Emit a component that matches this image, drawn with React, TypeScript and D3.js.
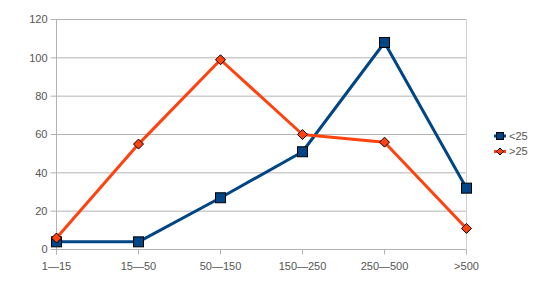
import * as d3 from 'd3';
import { useEffect, useRef } from 'react';

// Categories and series values
const categories = ['1\u201415', '15\u201450', '50\u2014150', '150\u2014250', '250\u2014500', '>500'];
const under25 = [4, 4, 27, 51, 108, 32];
const over25 = [6, 55, 99, 60, 56, 11];
const yTicks = [0, 20, 40, 60, 80, 100, 120];

const series = [
  { name: '<25', values: under25, color: '#004586', marker: 'square' },
  { name: '>25', values: over25, color: '#ff420e', marker: 'diamond' },
];

const App = () => {
  const ref = useRef<SVGSVGElement>(null);

  useEffect(() => {
    const svg = d3.select(ref.current);
    svg.selectAll('*').remove();

    const width = 554, height = 298;
    const left = 56.5, right = 466.5, top = 19.5, bottom = 249.5;
    const font = '"Liberation Sans", Arial, sans-serif';
    const textColor = '#555';

    svg.attr('width', width).attr('height', height);
    svg.append('rect').attr('width', width).attr('height', height).attr('fill', '#fff');

    const x = d3.scalePoint<string>().domain(categories).range([left, right]).padding(0);
    const y = d3.scaleLinear().domain([0, 120]).range([bottom, top]);

    // gridlines + y tick labels
    const grid = svg.append('g');
    yTicks.forEach(t => {
      grid.append('line')
        .attr('x1', left - 6).attr('x2', right)
        .attr('y1', y(t)).attr('y2', y(t))
        .attr('stroke', '#b3b3b3').attr('stroke-width', 1);
      grid.append('text')
        .attr('x', left - 9).attr('y', y(t))
        .attr('dy', '0.35em')
        .attr('text-anchor', 'end')
        .attr('font-family', font).attr('font-size', 11)
        .attr('fill', textColor)
        .text(t);
    });

    // axes lines
    svg.append('line').attr('x1', left).attr('x2', left).attr('y1', top).attr('y2', bottom + 5)
      .attr('stroke', '#b3b3b3');
    svg.append('line').attr('x1', right).attr('x2', right).attr('y1', top).attr('y2', bottom + 5)
      .attr('stroke', '#d0d0d0');

    categories.forEach(c => {
      svg.append('line')
        .attr('x1', x(c)!).attr('x2', x(c)!)
        .attr('y1', bottom).attr('y2', bottom + 5)
        .attr('stroke', '#b3b3b3');
      svg.append('text')
        .attr('x', x(c)!).attr('y', 270)
        .attr('text-anchor', 'middle')
        .attr('font-family', font).attr('font-size', 11)
        .attr('fill', textColor)
        .text(c);
    });

    const line = d3.line<number>()
      .x((_, i) => x(categories[i])!)
      .y(d => y(d));

    const drawMarker = (g: any, kind: string, cx: number, cy: number, color: string, s: number) => {
      if (kind === 'square') {
        g.append('rect')
          .attr('x', cx - s / 2).attr('y', cy - s / 2)
          .attr('width', s).attr('height', s)
          .attr('fill', color).attr('stroke', '#000').attr('stroke-width', 1);
      } else {
        const h = s / 2 + 1;
        g.append('path')
          .attr('d', `M${cx},${cy - h}L${cx + h},${cy}L${cx},${cy + h}L${cx - h},${cy}Z`)
          .attr('fill', color).attr('stroke', '#000').attr('stroke-width', 1);
      }
    };

    series.forEach(s => {
      const g = svg.append('g');
      g.append('path')
        .attr('d', line(s.values))
        .attr('fill', 'none')
        .attr('stroke', s.color)
        .attr('stroke-width', 3)
        .attr('stroke-linejoin', 'round');
      s.values.forEach((v, i) => {
        drawMarker(g, s.marker, x(categories[i])!, y(v), s.color, s.marker === 'square' ? 10 : 8);
      });
    });

    // legend
    series.forEach((s, i) => {
      const ly = 136 + i * 15.5;
      const g = svg.append('g');
      g.append('line')
        .attr('x1', 494).attr('x2', 506)
        .attr('y1', ly).attr('y2', ly)
        .attr('stroke', s.color).attr('stroke-width', 3);
      drawMarker(g, s.marker, 500, ly, s.color, s.marker === 'square' ? 7 : 5);
      g.append('text')
        .attr('x', 509).attr('y', ly)
        .attr('dy', '0.35em')
        .attr('font-family', font).attr('font-size', 11)
        .attr('fill', textColor)
        .text(s.name);
    });
  }, []);

  return <svg ref={ref} style={{ position: 'absolute', left: 0, top: 0 }}></svg>;
};

export default App;
